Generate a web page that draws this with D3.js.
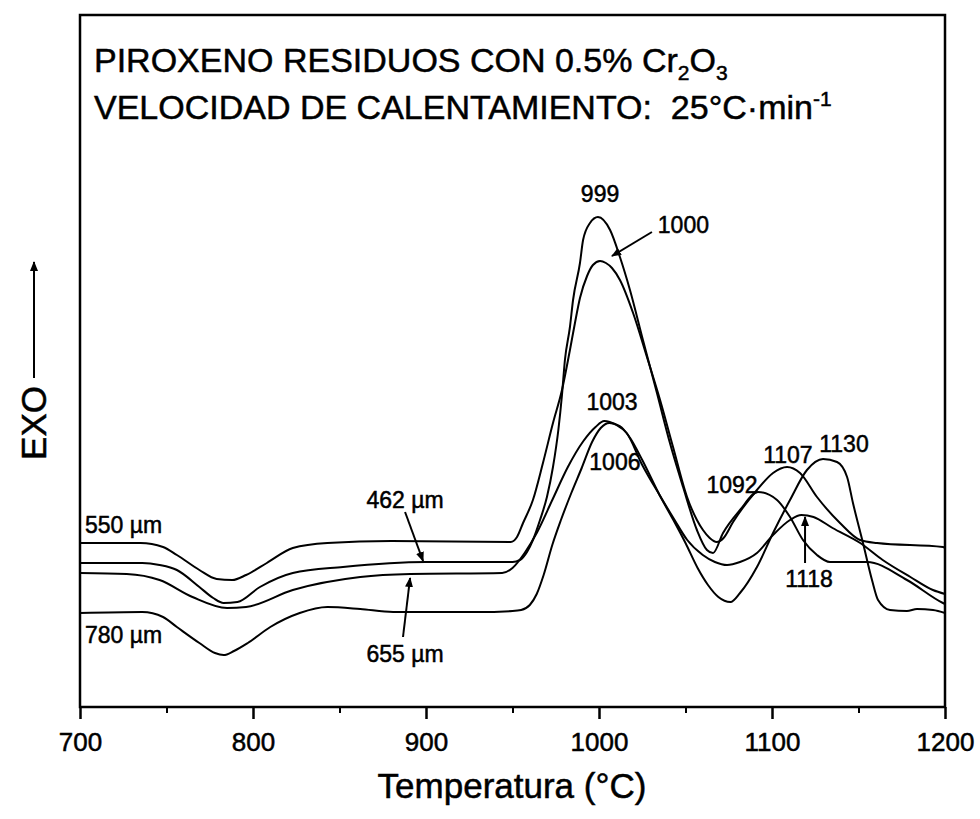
<!DOCTYPE html>
<html>
<head>
<meta charset="utf-8">
<script src="https://cdn.jsdelivr.net/npm/d3@7"></script>
<style>
  body { margin: 0; background: #fff; }
  svg text { font-family: "Liberation Sans", Arial, sans-serif; fill: #000; stroke: #000; stroke-width: 0.5px; }
</style>
</head>
<body>
<svg id="chart" width="980" height="819"></svg>
<script>
// DTA curves, temperature (°C) vs signal (arbitrary units)
const s550 = [[700,16.4],[735,16.4],[748,16.0],[756,15.2],[769,13.7],[779,12.8],[788,12.7],[796,13.2],[808,14.4],[823,15.9],[843,16.4],[880,16.6],[949,16.5],
  [952.6,17.0],[956.1,18.4],[961.8,20.7],[967.6,24.4],[973.4,28.4],[978.6,31.7],[983.2,35.7],[986.1,38.4],[989,40.9],[993.1,43.1],[996.5,44.2],[1000.6,44.6],[1004,44.4],[1007.5,43.9],[1012.1,42.7],[1019.7,39.4],[1027.7,35.0],[1035.3,30.7],[1042.8,26.0],[1050.9,21.0],[1056.6,18.7],[1060.1,17.7],[1064,16.9],[1068,16.5],[1072,16.9],[1077.5,18.5],[1091.3,21.7],[1100.6,23.4],[1108.7,24.0],[1116.2,23.4],[1126,21.0],[1139.3,18.4],[1150.9,16.7],[1160.7,16.4],[1198.8,16.0],[1200,15.9]];
const s462 = [[700,14.4],[736,14.4],[746,14.2],[756,13.7],[769,12.0],[777,10.9],[783,10.4],[791,10.5],[804,12.0],[823,13.4],[852,14.0],[900,14.5],[950,14.5],
  [954.3,14.7],[958.4,15.5],[961.8,16.7],[965.9,18.7],[969.9,21.0],[973.4,24.0],[976.5,27.7],[978.6,31.2],[980.3,34.7],[983.2,38.0],[985,40.7],[989,44.4],[990.8,46.7],[994.8,48.4],[999.4,49.0],[1006.4,47.7],[1012.1,45.0],[1017.9,41.7],[1025.4,36.7],[1033.5,31.4],[1041,26.4],[1048.6,22.0],[1056.6,17.7],[1062.4,15.7],[1065.9,15.4],[1071.7,17.4],[1081.5,19.7],[1091.9,21.5],[1102.9,20.7],[1110.4,19.0],[1117.9,16.7],[1126,15.2],[1133.5,14.5],[1154.9,14.5],[1178,12.7],[1198.8,10.4],[1200,10.3]];
const s655 = [[700,13.4],[727,13.3],[746,12.7],[765,11.0],[785,9.9],[796,10.0],[823,11.7],[862,13.0],[891,13.3],[944,13.4],
  [950,13.9],[957,15.4],[964,17.4],[973,20.7],[982,24.0],[991,26.6],[998,28.0],[1003,28.6],[1010,28.2],[1016,27.4],[1025,24.2],[1035,21.2],[1043,18.9],[1051,16.7],[1060,15.2],[1067,14.5],[1074,14.2],[1081.5,14.5],[1091.3,15.4],[1100.6,17.2],[1110.4,18.7],[1117,19.2],[1124,19.0],[1135,17.9],[1151,16.4],[1164,14.7],[1180,13.0],[1193,11.7],[1200,11.3]];
const s780 = [[700,9.4],[736,9.5],[748,9.0],[756,8.0],[769,6.4],[778,5.4],[783,5.2],[789,5.6],[797,6.4],[810,8.0],[827,9.4],[843,10.0],[862,9.8],[881,9.5],[930,9.5],[950,9.6],
  [955,9.7],[960,10.2],[964,11.3],[968,13.2],[973,16.2],[978,18.7],[984,21.4],[990,23.9],[996,26.5],[1001,27.9],[1006,28.4],[1012,28.1],[1018,26.9],[1025,24.7],[1035,21.2],[1043,18.7],[1050,16.4],[1057,13.9],[1063,12.2],[1069,11.0],[1076,10.5],[1081.5,11.4],[1091.3,14.0],[1100.6,17.4],[1110.4,20.7],[1120.2,23.7],[1129.5,24.8],[1137.6,24.5],[1143.4,23.0],[1146.8,20.4],[1152.6,16.4],[1157.8,12.7],[1161.3,10.7],[1168.2,9.7],[1178,9.6],[1183.8,9.8],[1193.1,9.7],[1200,9.4]];

const majorTicks = [700, 800, 900, 1000, 1100, 1200];
const minorTicks = [750, 850, 950, 1050, 1150];

// peak labels: text, temperature, signal
const peakLabels = [["999",1000.6,50.5],["1000",1048.8,47.4],["1003",1007.5,29.7],["1006",1009.2,23.7],
  ["1092",1076.9,21.4],["1107",1109.2,24.4],["1130",1141.6,25.5],["1118",1121.4,12.0]];
// size labels: text, temperature, signal, anchor
const sizeLabels = [["550 µm",702.9,17.4,"start"],["780 µm",702.9,6.4,"start"],
  ["462 µm",887.9,19.9,"middle"],["655 µm",887.9,4.5,"middle"]];
// arrows: from [T, v] to [T, v] (head at the second point)
const arrows = [[[1030.6,47.5],[1007.5,45.1]],[[887.9,19.5],[898.3,14.6]],
  [[886.7,7.0],[890.8,12.9]],[[1119.1,14.4],[1119.1,19.0]]];

const svg = d3.select("#chart");
const mLeft = 80, mRight = 945, mTop = 15, mBottom = 707;

const x = d3.scaleLinear().domain([700, 1200]).range([mLeft, mRight]);
const y = d3.scaleLinear().domain([0, 69.2]).range([mBottom, mTop]);

svg.append("defs").append("marker")
  .attr("id", "head")
  .attr("viewBox", "0 0 10 10")
  .attr("refX", 9).attr("refY", 5)
  .attr("markerWidth", 5).attr("markerHeight", 5)
  .attr("markerUnits", "strokeWidth")
  .attr("orient", "auto")
  .append("path").attr("d", "M0,1 L10,5 L0,9 Z").attr("fill", "#000");

// x axis: major and minor ticks outward
svg.append("g")
  .attr("transform", `translate(0,${mBottom})`)
  .call(d3.axisBottom(x).tickValues(majorTicks).tickSize(12).tickPadding(14).tickFormat(d3.format("d")))
  .call(g => g.select(".domain").remove())
  .call(g => g.selectAll("line").attr("stroke", "#000").attr("stroke-width", 2.5))
  .call(g => g.selectAll("text").style("font-size", "26px").attr("fill", "#000"));

svg.append("g")
  .attr("transform", `translate(0,${mBottom})`)
  .call(d3.axisBottom(x).tickValues(minorTicks).tickSize(6).tickFormat(""))
  .call(g => g.select(".domain").remove())
  .call(g => g.selectAll("line").attr("stroke", "#000").attr("stroke-width", 2));

// frame
svg.append("rect")
  .attr("x", mLeft).attr("y", mTop)
  .attr("width", mRight - mLeft).attr("height", mBottom - mTop)
  .attr("fill", "none").attr("stroke", "#000").attr("stroke-width", 2.5);

const line = d3.line()
  .x(d => x(d[0]))
  .y(d => y(d[1]))
  .curve(d3.curveMonotoneX);

svg.append("g").selectAll("path")
  .data([s550, s462, s655, s780])
  .join("path")
  .attr("d", line)
  .attr("fill", "none")
  .attr("stroke", "#000")
  .attr("stroke-width", 2);

svg.append("g").selectAll("text")
  .data(peakLabels)
  .join("text")
  .attr("x", d => x(d[1]))
  .attr("y", d => y(d[2]))
  .attr("text-anchor", "middle")
  .style("font-size", "23px")
  .text(d => d[0]);

svg.append("g").selectAll("text")
  .data(sizeLabels)
  .join("text")
  .attr("x", d => x(d[1]))
  .attr("y", d => y(d[2]))
  .attr("text-anchor", d => d[3])
  .style("font-size", "23px")
  .text(d => d[0]);

svg.append("g").selectAll("line")
  .data(arrows)
  .join("line")
  .attr("x1", d => x(d[0][0])).attr("y1", d => y(d[0][1]))
  .attr("x2", d => x(d[1][0])).attr("y2", d => y(d[1][1]))
  .attr("stroke", "#000")
  .attr("stroke-width", 2)
  .attr("marker-end", "url(#head)");

// title
const t1 = svg.append("text").attr("x", 94).attr("y", 72).style("font-size", "34px");
t1.append("tspan").text("PIROXENO RESIDUOS CON 0.5% Cr");
t1.append("tspan").attr("dy", 8).style("font-size", "21px").text("2");
t1.append("tspan").attr("dy", -8).text("O");
t1.append("tspan").attr("dy", 8).style("font-size", "21px").text("3");

const t2 = svg.append("text").attr("x", 94).attr("y", 119).style("font-size", "34px")
  .style("white-space", "pre");
t2.append("tspan").text("VELOCIDAD DE CALENTAMIENTO:  25°C·min");
t2.append("tspan").attr("dy", -13).style("font-size", "21px").text("-1");

// axis titles
svg.append("text")
  .attr("x", 512).attr("y", 798)
  .attr("text-anchor", "middle")
  .style("font-size", "35px")
  .text("Temperatura (°C)");

svg.append("text")
  .attr("transform", "translate(46,423) rotate(-90)")
  .attr("text-anchor", "middle")
  .style("font-size", "35px")
  .text("EXO");

svg.append("line")
  .attr("x1", 34).attr("y1", 378)
  .attr("x2", 34).attr("y2", 262)
  .attr("stroke", "#000").attr("stroke-width", 2)
  .attr("marker-end", "url(#head)");
</script>
</body>
</html>
